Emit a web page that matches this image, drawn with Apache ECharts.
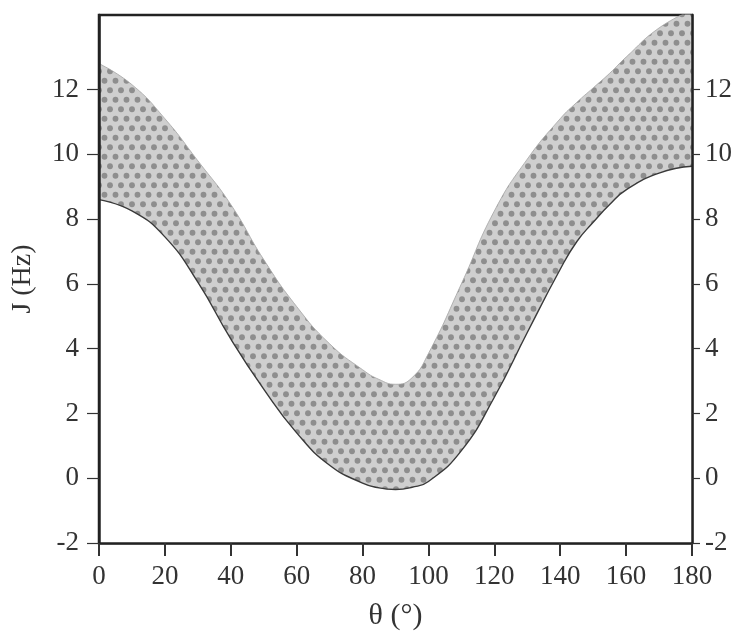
<!DOCTYPE html>
<html>
<head>
<meta charset="utf-8">
<script src="https://cdn.jsdelivr.net/npm/echarts@6/dist/echarts.min.js"></script>
<style>
  html, body { margin: 0; padding: 0; background: #fff; }
  #main { width: 739px; height: 636px; }
</style>
</head>
<body>
<div id="main"></div>
<script>
  // dihedral angle (deg) and J range
  var theta = [0, 10, 20, 30, 40, 50, 60, 70, 80, 85, 90, 95, 100, 110, 120, 130, 140, 145, 150, 155, 160, 170, 180];
  var lower = [8.6, 8.25, 7.45, 6.05, 4.3, 2.75, 1.4, 0.4, -0.15, -0.3, -0.35, -0.28, -0.1, 0.85, 2.5, 4.5, 6.45, 7.3, 7.9, 8.45, 8.9, 9.42, 9.63];
  var upper = [12.8, 12.15, 11.1, 9.8, 8.45, 6.75, 5.3, 4.15, 3.35, 3.05, 2.9, 3.1, 3.85, 6.0, 8.25, 9.85, 11.1, 11.6, 12.05, 12.5, 13.0, 13.9, 14.45];
  var yTicks = [-2, 0, 2, 4, 6, 8, 10, 12];

  // dotted screen texture for the band
  function dotPattern() {
    var c = document.createElement('canvas');
    c.width = 22; c.height = 19;
    var ctx = c.getContext('2d');
    ctx.fillStyle = '#cfcfcf';
    ctx.fillRect(0, 0, 22, 19);
    ctx.fillStyle = '#8e8e8e';
    [[5.5, 4.75], [16.5, 4.75], [0, 14.25], [11, 14.25], [22, 14.25]].forEach(function (p) {
      ctx.beginPath();
      ctx.arc(p[0], p[1], 2.9, 0, Math.PI * 2);
      ctx.fill();
    });
    return c;
  }

  var lowerData = theta.map(function (t, i) { return [t, lower[i]]; });
  var upperData = theta.map(function (t, i) { return [t, upper[i]]; });

  var font = 'Liberation Serif';
  var chart = echarts.init(document.getElementById('main'));

  function yAxisOpt(pos, tickLen, margin) {
    return {
      type: 'value',
      position: pos,
      min: -2,
      max: 14.3,
      interval: 2,
      z: 10,
      axisLine: { show: true, onZero: false, lineStyle: { color: '#222', width: 2.5 } },
      axisTick: { show: true, inside: false, length: tickLen, customValues: yTicks, lineStyle: { color: '#333', width: 1.2 } },
      axisLabel: { customValues: yTicks, fontFamily: font, fontSize: 27, color: '#333', margin: margin },
      splitLine: { show: false }
    };
  }

  var yLeft = yAxisOpt('left', 12, 20);
  yLeft.name = 'J (Hz)';
  yLeft.nameLocation = 'middle';
  yLeft.nameGap = 62;
  yLeft.nameTextStyle = { fontFamily: font, fontSize: 28, color: '#333' };

  chart.setOption({
    backgroundColor: '#fff',
    animation: false,
    grid: {
      left: 99, right: 47, top: 15, bottom: 83,
      show: true, borderColor: '#222', borderWidth: 2.5, backgroundColor: 'transparent'
    },
    xAxis: {
      type: 'value',
      min: 0,
      max: 180,
      interval: 20,
      z: 10,
      name: 'θ (°)',
      nameLocation: 'middle',
      nameGap: 58,
      nameTextStyle: { fontFamily: font, fontSize: 30, color: '#333' },
      axisLine: { show: true, onZero: false, lineStyle: { color: '#222', width: 2.5 } },
      axisTick: { show: true, inside: false, length: 13, lineStyle: { color: '#333', width: 2 } },
      axisLabel: { fontFamily: font, fontSize: 27, color: '#333', margin: 20 },
      splitLine: { show: false }
    },
    yAxis: [yLeft, yAxisOpt('right', 8, 13)],
    series: [{
      // upper limit: texture filled down to the axis
      type: 'line',
      data: upperData,
      smooth: 0.5,
      symbol: 'none',
      lineStyle: { color: '#a5a5a5', width: 0.8 },
      areaStyle: { color: { image: dotPattern(), repeat: 'repeat' }, opacity: 1, origin: 'start' },
      z: 2
    }, {
      // lower limit: white mask below it leaves only the band
      type: 'line',
      data: lowerData,
      smooth: 0.5,
      symbol: 'none',
      lineStyle: { color: '#3a3a3a', width: 1.4 },
      areaStyle: { color: '#fff', opacity: 1, origin: 'start' },
      z: 3
    }]
  });
</script>
</body>
</html>
